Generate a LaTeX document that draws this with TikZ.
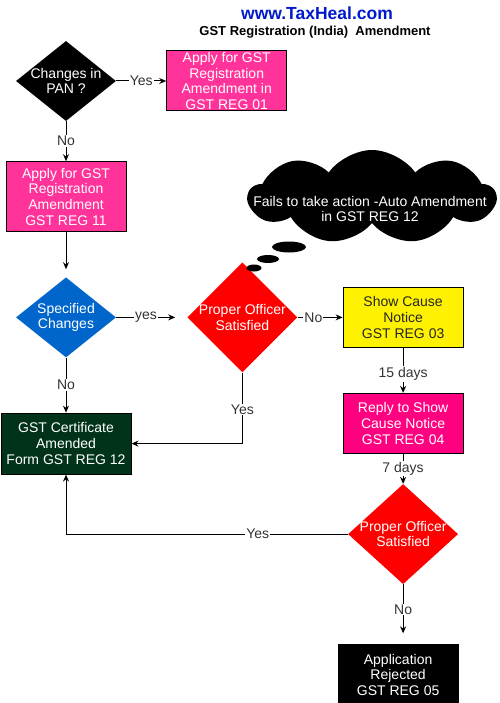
\documentclass[tikz,border=0pt]{standalone}
\usepackage{fontspec}
\setmainfont{Liberation Sans}
\usetikzlibrary{shapes.geometric, shapes.symbols, arrows.meta, positioning}

\definecolor{regpink}{HTML}{FF3399}
\definecolor{replypink}{HTML}{FF0080}
\definecolor{specblue}{HTML}{0066CC}
\definecolor{certgreen}{HTML}{003319}
\definecolor{siteblue}{HTML}{0019CC}
\definecolor{lblgray}{HTML}{333333}

\begin{document}
\begin{tikzpicture}[
        x=1pt, y=-1pt,
        font=\fontsize{14}{15.7}\selectfont,
        process/.style={rectangle, draw=black, line width=1pt, minimum width=120pt, minimum height=60pt, inner sep=0pt, align=center, text=white},
        decision/.style={diamond, minimum width=100pt, minimum height=80pt, inner sep=0pt},
        dtext/.style={align=center, text=white},
        bubble/.style={ellipse, fill=black, inner sep=0pt},
        lbl/.style={fill=white, text=lblgray, inner sep=1pt},
        arr/.style={line width=1pt, -{Stealth[length=7pt, width=6pt]}}
    ]
        \useasboundingbox (0,0) rectangle (499,703);

        % title
        \node (site) [font=\fontsize{17.5}{20}\selectfont\bfseries, text=siteblue] at (317,13) {www.TaxHeal.com};
        \node (title) [font=\fontsize{13}{15}\selectfont\bfseries] at (315,32) {GST Registration (India)\ \ Amendment};

        % main flow
        \node (pan) [decision, fill=black, label={[dtext]center:Changes in\\PAN ?}] at (66,81) {};
        \node (reg01) [process, fill=regpink, right=50pt of pan] {Apply for GST\\Registration\\Amendment in\\GST REG 01};
        \node (reg11) [process, fill=regpink, minimum height=70pt, below=40pt of pan] {Apply for GST\\Registration\\Amendment\\GST REG 11};
        \node (spec) [decision, fill=specblue, below=45pt of reg11, label={[dtext]center:Specified\\Changes}] {};
        \node (proper1) [decision, fill=red, minimum width=110pt, minimum height=110pt, right=71pt of spec, label={[dtext]center:Proper Officer\\Satisfied}] {};
        \node (showcause) [process, fill=yellow, text=black!85, right=45pt of proper1] {Show Cause\\Notice\\GST REG 03};
        \node (reply) [process, fill=replypink, below=45pt of showcause] {Reply to Show\\Cause Notice\\GST REG 04};
        \node (proper2) [decision, fill=red, minimum width=110pt, minimum height=100pt, below=30pt of reply, label={[dtext]center:Proper Officer\\Satisfied}] {};
        \node (rejected) [process, fill=black, below=60pt of proper2, xshift=-5pt] {Application\\Rejected\\GST REG 05};
        \node (cert) [process, fill=certgreen, minimum width=130pt, minimum height=61pt, below=55pt of spec] {GST Certificate\\Amended\\Form GST REG 12};

        % thought cloud
        \node (cloud) [cloud, cloud puffs=9, cloud puff arc=110, cloud ignores aspect, fill=black, minimum width=247pt, minimum height=94pt, inner sep=0pt] at (372,197) {};
        \node (cloudtext) [dtext] at (370,209) {Fails to take action -Auto Amendment\\in GST REG 12};
        \node (b1) [bubble, minimum width=34pt, minimum height=11pt] at (289,247) {};
        \node (b2) [bubble, minimum width=22pt, minimum height=8pt] at (268,259) {};
        \node (b3) [bubble, minimum width=15pt, minimum height=7pt] at (254,268) {};

        % connectors
        \draw [arr] (pan) -- node[lbl] {Yes} (reg01);
        \draw [arr] (pan) -- node[lbl] {No} (reg11);
        \draw [arr, shorten >=8pt] (reg11) -- (spec);
        \draw [arr, shorten >=12pt] (spec) -- node[lbl, pos=0.42] {yes} (proper1);
        \draw [arr] (proper1) -- node[lbl, pos=0.35] {No} (showcause);
        \draw [arr] (showcause) -- node[lbl, pos=0.58] {15 days} (reply);
        \draw [arr] (reply) -- node[lbl] {7 days} (proper2);
        \draw [arr, shorten >=11pt] (proper2.south) -- node[lbl, pos=0.42] {No} (proper2.south |- rejected.north);
        \draw [arr] (spec) -- node[lbl] {No} (cert);
        \draw [arr] (proper1.south) |- node[lbl, pos=0.26] {Yes} (cert.east);
        \draw [arr] (proper2.west) -| node[lbl, pos=0.16] {Yes} (cert.south);
    \end{tikzpicture}
\end{document}
